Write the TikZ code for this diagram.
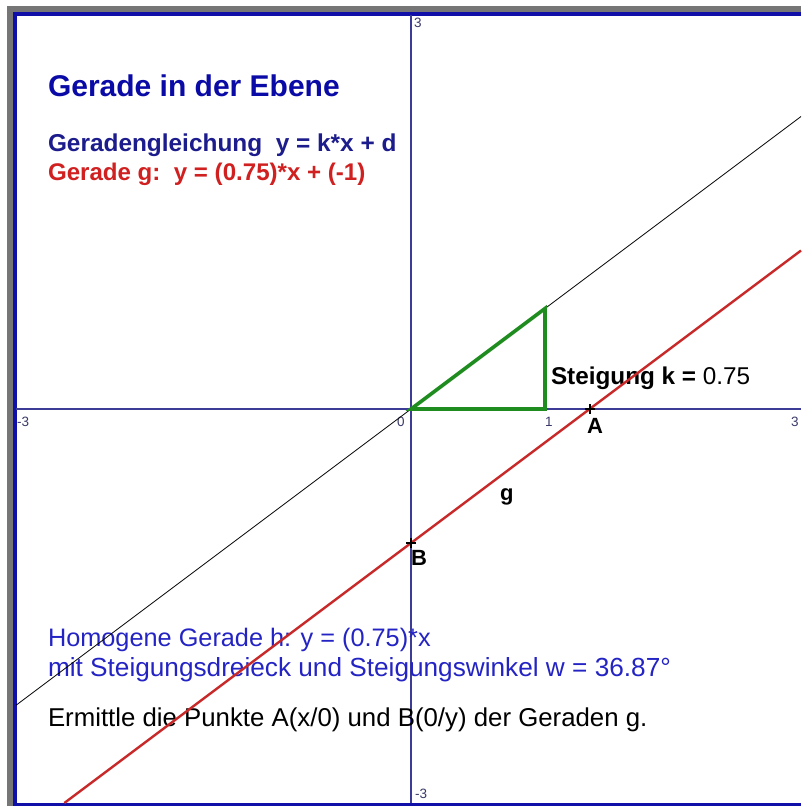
\documentclass[tikz,border=0pt]{standalone}
\usepackage{fontspec}
\setmainfont{Liberation Sans}
\definecolor{framegray}{HTML}{767676}
\definecolor{frameblue}{HTML}{1010A8}
\definecolor{axiscol}{HTML}{3C3C96}
\definecolor{titleblue}{HTML}{0A0AA6}
\definecolor{navy}{HTML}{1C1C8C}
\definecolor{txtred}{HTML}{D02020}
\definecolor{hblue}{HTML}{2424C4}
\definecolor{linered}{HTML}{C82828}
\definecolor{trigreen}{HTML}{1E8C1E}
\definecolor{ticklbl}{HTML}{3A3A6A}
\begin{document}
\begin{tikzpicture}[x=1pt,y=-1pt,
  txt/.style={anchor=base west, inner sep=0pt, outer sep=0pt},
  ticklabel/.style={anchor=base west, inner sep=0pt, text=ticklbl, font=\fontsize{13.5}{13.5}\selectfont},
  axisline/.style={draw=axiscol, line width=1.3pt},
  ptlabel/.style={anchor=base west, inner sep=0pt, font=\fontsize{22}{22}\selectfont\bfseries},
  cross/.style={draw=black, line width=1.6pt}
]
\useasboundingbox (0,0) rectangle (801,806);
\fill[white] (0,0) rectangle (801,806);
% frame
\fill[framegray] (7,6) rectangle (801,12);
\fill[framegray] (7,6) rectangle (13,806);
\fill[frameblue] (13,12) rectangle (801,15.5);
\fill[frameblue] (13,12) rectangle (16.5,806);
\fill[frameblue] (13,803) rectangle (801,805.5);
% axes
\coordinate (xl) at (16,409);
\coordinate (xr) at (801,409);
\coordinate (yt) at (411,15);
\coordinate (yb) at (411,803);
\coordinate (O) at (411,409);
\draw[axisline] (xl) -- (xr);
\draw[axisline] (yt) -- (yb);
% tick labels
\node[ticklabel] (ly3) at (414,27) {3};
\node[ticklabel] (lym3) at (415,798) {-3};
\node[ticklabel] (lxm3) at (17,426) {-3};
\node[ticklabel] (lx3) at (791,426) {3};
\node[ticklabel] (lx0) at (397,426) {0};
\node[ticklabel] (lx1) at (545,426) {1};
% texts
\node[txt, text=titleblue, font=\fontsize{30}{30}\selectfont\bfseries] (title) at (48,96) {Gerade in der Ebene};
\node[txt, text=navy, font=\fontsize{24.4}{24.4}\selectfont\bfseries] (eq1) at (48,151) {Geradengleichung\ \ y = k*x + d};
\node[txt, text=txtred, font=\fontsize{24.1}{24.1}\selectfont\bfseries] (eq2) at (48,180) {Gerade g:\ \ y = (0.75)*x + (-1)};
\node[txt, text=hblue, font=\fontsize{25.3}{25.3}\selectfont] (hom1) at (48,646) {Homogene Gerade h: y = (0.75)*x};
\node[txt, text=hblue, font=\fontsize{26.2}{26.2}\selectfont] (hom2) at (48,676) {mit Steigungsdreieck und Steigungswinkel w = 36.87°};
\node[txt, text=black, font=\fontsize{25.8}{25.8}\selectfont] (task) at (48,726) {Ermittle die Punkte A(x/0) und B(0/y) der Geraden g.};
\node[txt, text=black, font=\fontsize{24.3}{24.3}\selectfont] (stg) at (551,384) {\bfseries Steigung k = \mdseries 0.75};
% line h
\coordinate (h1) at (16,705.25);
\coordinate (h2) at (801,116.5);
\draw[black, line width=0.8pt] (h1) -- (h2);
% line g
\coordinate (g1) at (64.33,803);
\coordinate (g2) at (801,250.5);
\draw[linered, line width=2.4pt] (g1) -- (g2);
% slope triangle
\coordinate (T1) at (545,409);
\coordinate (T2) at (545,308.5);
\draw[trigreen, line width=3.6pt, line join=miter] (O) -- (T1) -- (T2) -- cycle;
% points
\coordinate (A) at (589.7,409);
\coordinate (B) at (411,543);
\draw[cross] ([xshift=-5pt]A) -- ([xshift=5pt]A);
\draw[cross] ([yshift=-5pt]A) -- ([yshift=5pt]A);
\draw[cross] ([xshift=-5pt]B) -- ([xshift=5pt]B);
\draw[cross] ([yshift=-5pt]B) -- ([yshift=5pt]B);
\node[ptlabel] (lA) at (587,433) {A};
\node[ptlabel] (lB) at (411,565) {B};
\node[ptlabel] (lg) at (500,500) {g};
\end{tikzpicture}
\end{document}
